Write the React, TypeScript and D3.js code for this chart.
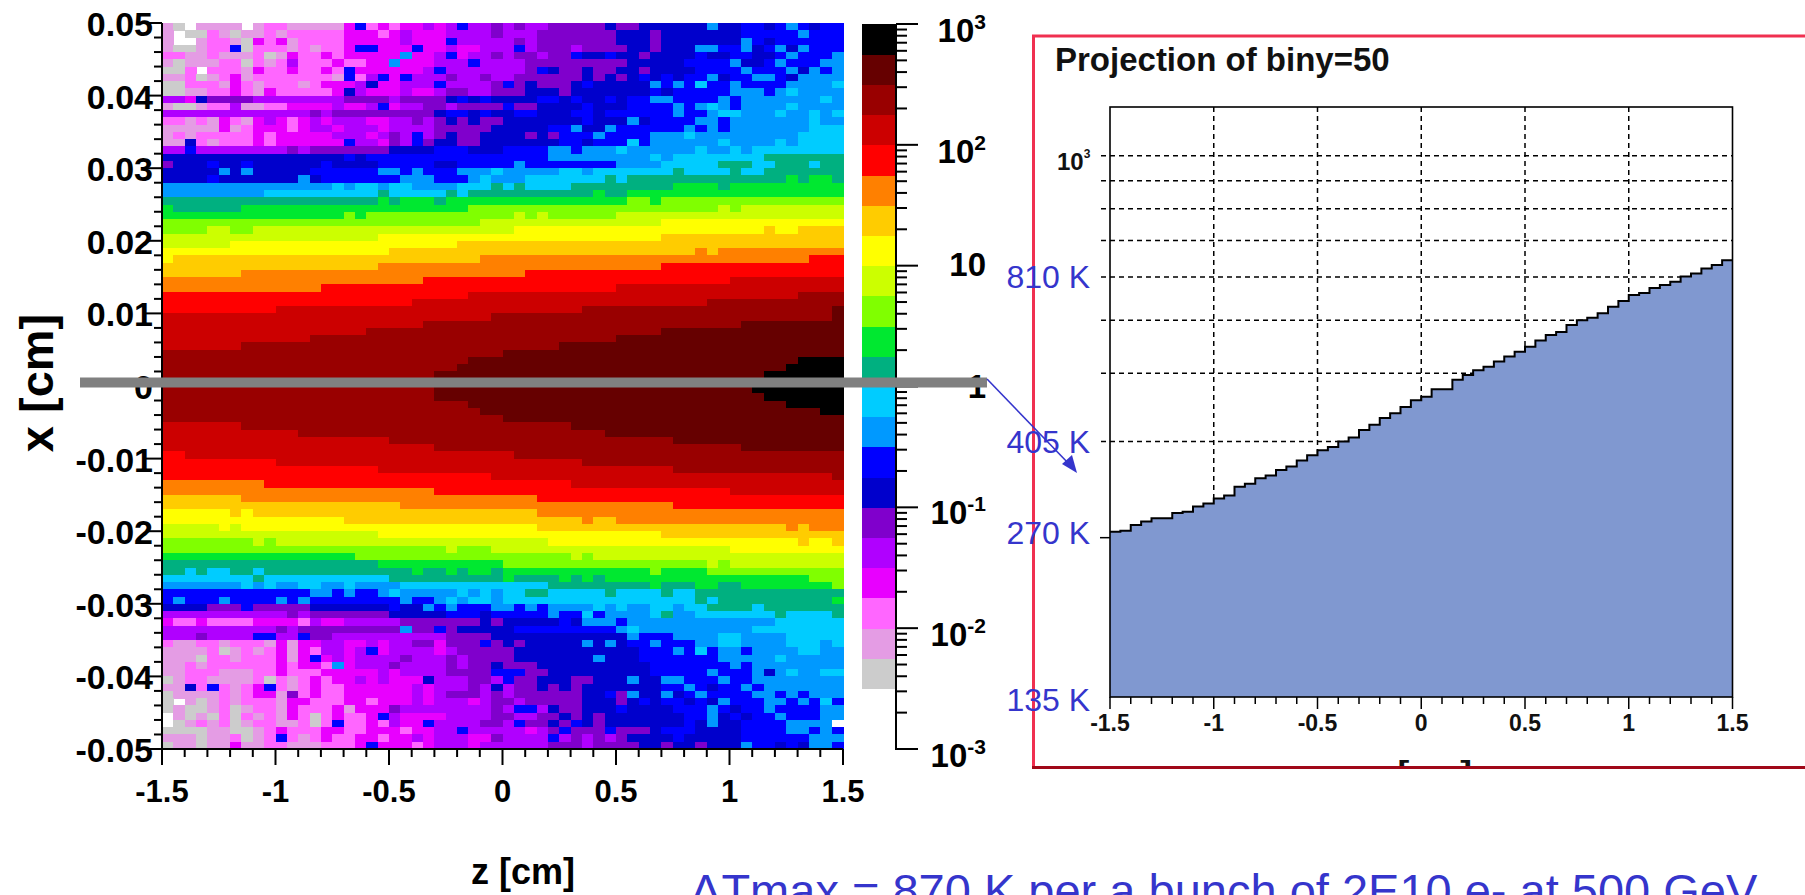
import React from "react";
import * as d3 from "d3";

// Heat-map rows, top (x = 0.05) to bottom (x = -0.05). Run-length coded colour levels, 60 bins each.
const heatRows: string[] = [
  "ba.bbbb.bccbbbbbdhcdcddedeheefefeefffffgffggggggigghhghihghh",
  "b.aacbabbcbcccccdddcdedddeeeefeeefffffffgggfggggggghhhhhihhh",
  "b..bccbadcdbccccdddddedddheeeeefefffffffgggfgggggggihghhhhhh",
  "baabcchacccbcbccdhhdddhddeddeeehefffeffffggfgggiihhighigihhh",
  "ccbbcbbbcabdccdcdddddiddehdeefeffeffhgghggfgggghgghhgghihhhi",
  "babbbccacbcecccdccddidddeeeheee2f9g5h4ig2hih2hii",
  "aac.cccbdccdccdchd6ehe5e2fhgf2gf2g2fg4h4ih3igihi",
  "bbcabcdbcccccccbhcehdheeefeefeef6gfgfghghgh2igh2i2hgi4",
  "a2c3bdcbc3bcd3egd2e3he4fhfgf3ghg5ihihjh2ih4i4j",
  "a2b2c2dcbdc5dged3ed2ef2e2ff2g3fg7hgh5i3hiji4",
  "e2dgf4e8f4ef4ghghgg3h2ghg2hgh2i2h4ihi7ji",
  "ba2bc2eb2c2d4ed2ehde2f2ef4hf2g4hg3h4ihijihi4ji4",
  "e13fef9gh2ghggh2g3h2gh6ih2ij2i3ji2jij",
  "c2bcbdcbdedcdede3d2e2fefgfgf2g7hg3igh4i2hi7ji2",
  "b5dbcd3cde2de3de4f5gg4h2ig2ih6ihihi7j3",
  "bcbc5dcd5e3defehefgf2g2g2fgfh3ih4i3ji9j4",
  "b2gcbc3dcd6he2dfehfg2f2g2g5h2gh3jhi6ji4jij4",
  "e2he8fef7g4h3g3h4i2hi3ji6ji2jij8",
  "g16hgh12h4i9jij8k7",
  "fg3hg2hg6hg4h5g2h4hih8i4j5k3j2k3jk2",
  "g5igig5h6i2hih3i3ji5j2ij7kj4kj2k7",
  "g4hg7igh7i3h3ijii2j7kjk14lkl2k",
  "i15jij2ij2i4j3kjkj4k9l4kl10",
  "i9j10kj5kjk11lk2l19",
  "k19lkl3kl16m2lm16",
  "lk6l20m22nmn9",
  "l16mlm13nmnm6n20",
  "m28n16o16",
  "m4n2m2n23o22po2p4",
  "n19o25p16",
  "n6o20p34",
  "o20p27qpq11",
  "op27q29r3",
  "p19q25r16",
  "p7q25r28",
  "q23r27s10",
  "q14r26s20",
  "r27s29t4",
  "r22s26t12",
  "r10s27t22u",
  "s29t30u",
  "s23t28u9",
  "s18t26u16",
  "s13t27u20",
  "s7t28u25",
  "t30u30",
  "t27u29v4",
  "t26u29v5",
  "t24u29v7",
  "t24u29v7",
  "t24u28v8",
  "t24u29v7",
  "t27u28v5",
  "t28u30v2",
  "t30u30",
  "s7t29u24",
  "s12t27u21",
  "s20t25u15",
  "s24t27u9",
  "r2s29t29",
  "r10s27t23",
  "r19s26t15",
  "r29s30t",
  "q9r27s24",
  "q24r26s10",
  "p7q26r27",
  "p21q24r15",
  "o6pop25q27",
  "o16p21qp2q20",
  "n5ono26p22qpq3",
  "n19o25p16",
  "m8nmn24o22po2p",
  "m25nm3n21o10",
  "l17m19nmn22",
  "k19l11m18nmn10",
  "k2jkj2k2jk13lk2lkl2kl13ml4m12",
  "j8kj11k10lk4lklkl18m3",
  "i7jiji2j2i2ji4j13k9lk3l2k2l8m",
  "h13i2hih2iji5jijij2k2j5kj4kj2k13",
  "hih3ih4ihih8ih2ijij2ij17kjk10l",
  "g4f3hf5g7hg2ihih3iihihi4jiji2j2ij2k4jk7",
  "e11fef7g5h3ghh4ih2jhi4jki2j7kj4k",
  "dc2dc4d4ced2e5f7gfg5hgi3hi13j6",
  "e10fef9if2hfg4gh9iji10j8",
  "e3fe4h2e2hf2e10f4gg11ih3i4j2i4j5",
  "cb2c2bc3bdbd2e2d2ede2f2df3hfgfg5igigh2ih3i2j2i4j3ij",
  "b4cabcbcdbdce2dehde4def4fg11h3ihjhi2hi4j2i2",
  "b3ac2bc3dbdhdede4fe3fef3fg7ig3h7i5ji5",
  "b2cbc6dcd2cide3fe4fef2gf3g10h7ihi8",
  "b2c3b3c2dc3d5ede4f4hh2f2g9h5ih3igiji2j2",
  "abc2b4cacbcdcd2eded3ge3f2ehf2g3f2g3ig2i2h3ih2i8",
  "b2gchcbcdhcbcdc2d6ede3fegef2gfgfg7h2ihgh2ihi7",
  "ab4cbcd2bfcdc2d6edef3efef6g2hfig2ighih4i2hihi3",
  "a.babcbc3bd2c3d2cd3ede3deffef5g3fghgh2ghgih3i2hihjh",
  "aba2bcabc2bdc3dbd3fe8feh2egf2g3hg4h3ihgh2ihh3i2",
  ".babacacbcbdcacdc2dhed4e4ffe2f2gfgfg7h2ighgh2ih3i2",
  ".abcbcabc2b2cachc2dced2he4ffehf2gfhgfg7hgig2h3hi4",
  "a4b2a2bcdc3d2c2d3cd2e2he3e2defhf3hf3gh3g4h4i2hih",
  "b3ab2cabchcbcdc2d2cd2ede3d2fe4hefefefg4hg5h6i3",
  "ab2ab2db2c2b3c3dhd3cde3de2e4f3ef4g2fg2fg3ih2ghgi2h",
];

// Colour levels, lowest to highest, matching the letters in heatRows.
const levelKeys: string[] = "abcdefghijklmnopqrstuv".split("");
const levelColors: string[] = [
  "#cccccc", "#e49ce4", "#ff66ff", "#e800ff", "#b000ff", "#8000cc", "#0000cc", "#0000ff",
  "#0099ff", "#00ccff", "#00b080", "#00e830", "#80ff00", "#ccff00", "#ffff00", "#ffcc00",
  "#ff8000", "#ff0000", "#cc0000", "#990000", "#660000", "#000000",
];

// Projection histogram, 60 bins in z.
const projection: number[] = [
  205, 206, 211, 214, 217, 217, 222, 223, 228, 231,
  236, 239, 248, 251, 257, 260, 266, 270, 277, 283,
  289, 293, 300, 305, 315, 322, 331, 338, 347, 357,
  362, 374, 374, 389, 397, 405, 411, 420, 429, 438,
  447, 459, 470, 476, 490, 500, 505, 515, 529, 542,
  556, 561, 573, 580, 588, 601, 609, 622, 631, 644,
];

const zTicks: number[] = [-1.5, -1, -0.5, 0, 0.5, 1, 1.5];
const xTicks: number[] = [0.05, 0.04, 0.03, 0.02, 0.01, 0, -0.01, -0.02, -0.03, -0.04, -0.05];
const colorDecades: { value: number; base: string; sup: string; dy: number }[] = [
  { value: 1000, base: "10", sup: "3", dy: 18 },
  { value: 100, base: "10", sup: "2", dy: 18 },
  { value: 10, base: "10", sup: "", dy: 10 },
  { value: 1, base: "1", sup: "", dy: 11 },
  { value: 0.1, base: "10", sup: "-1", dy: 17 },
  { value: 0.01, base: "10", sup: "-2", dy: 18 },
  { value: 0.001, base: "10", sup: "-3", dy: 18 },
];
const gridCounts: number[] = [1000, 900, 800, 700, 600, 500, 400, 300];
const kelvinLabels: { count: number; text: string; y: number }[] = [
  { count: 600, text: "810 K", y: 288 },
  { count: 300, text: "405 K", y: 453 },
  { count: 200, text: "270 K", y: 544 },
  { count: 100, text: "135 K", y: 711 },
];

const decodeRow = (s: string): string[] => {
  const out: string[] = [];
  for (const m of s.matchAll(/([a-v.])(\d*)/g)) {
    const n = m[2] ? +m[2] : 1;
    for (let i = 0; i < n; i++) out.push(m[1]);
  }
  return out;
};

const FONT = "'Liberation Sans', Arial, sans-serif";
const BLUE = "#3535cc";

export default function App() {
  const xHeat = d3.scaleLinear().domain([-1.5, 1.5]).range([162, 843]);
  const yHeat = d3.scaleLinear().domain([0.05, -0.05]).range([23, 749]);
  const color = d3.scaleOrdinal<string, string>().domain(levelKeys).range(levelColors);
  const yBar = d3.scaleLog().domain([0.001, 1000]).range([749, 24]);
  const xProj = d3.scaleLinear().domain([-1.5, 1.5]).range([1110, 1732.5]);
  const yProj = d3.scaleLog().domain([102.2, 1228]).range([697, 107]);

  const zMinor = d3.range(-15, 16).map((v) => v / 10);
  const xMinor = d3.range(-25, 26).map((v) => v * 0.002);
  const barMinor = d3.range(-3, 3).flatMap((e) => d3.range(2, 10).map((m) => m * Math.pow(10, e)));
  const barLevels = levelColors.map((c, i) => ({
    c,
    lo: Math.pow(10, -3 + (i + 2) * 0.25),
    hi: Math.pow(10, -3 + (i + 3) * 0.25),
  }));

  const binW = 0.05;
  const stepLine = d3
    .line<[number, number]>()
    .x((d) => xProj(d[0]))
    .y((d) => yProj(d[1]))
    .curve(d3.curveStepAfter);
  const stepPts: [number, number][] = projection.map((v, i) => [-1.5 + i * binW, v]);
  stepPts.push([1.5, projection[projection.length - 1]]);
  const area = d3
    .area<[number, number]>()
    .x((d) => xProj(d[0]))
    .y0(697)
    .y1((d) => yProj(d[1]))
    .curve(d3.curveStepAfter);

  return (
    <svg
      width={1805}
      height={895}
      style={{ position: "fixed", left: 0, top: 0, background: "#fff" }}
      fontFamily={FONT}
    >
      <defs>
        <clipPath id="panelClip">
          <rect x={1033} y={35} width={780} height={733} />
        </clipPath>
      </defs>

      {/* heat map */}
      <g shapeRendering="crispEdges">
        {heatRows.map((row, r) =>
          decodeRow(row).map((k, c) =>
            k === "." ? null : (
              <rect
                key={`${r}-${c}`}
                x={xHeat(-1.5 + c * binW)}
                y={yHeat(0.05 - r * 0.001)}
                width={xHeat(binW) - xHeat(0) + 0.5}
                height={yHeat(0) - yHeat(0.001) + 0.5}
                fill={color(k)}
              />
            )
          )
        )}
      </g>

      {/* heat map axes */}
      <g stroke="#000" strokeWidth={2} fill="none">
        <line x1={162} x2={162} y1={23} y2={750} />
        <line x1={161} x2={843} y1={749} y2={749} />
        {xMinor.map((v, i) => (
          <line key={i} x1={i % 5 === 0 ? 146 : 154} x2={162} y1={yHeat(v)} y2={yHeat(v)} />
        ))}
        {zMinor.map((v, i) => (
          <line key={i} x1={xHeat(v)} x2={xHeat(v)} y1={749} y2={i % 5 === 0 ? 765 : 757} />
        ))}
      </g>
      <g fontWeight="bold" fill="#000">
        {xTicks.map((v) => (
          <text key={v} x={153} y={yHeat(v) + 13} textAnchor="end" fontSize={34}>
            {String(v)}
          </text>
        ))}
        {zTicks.map((v) => (
          <text key={v} x={xHeat(v)} y={802} textAnchor="middle" fontSize={31}>
            {String(v)}
          </text>
        ))}
      </g>
      <text x={523} y={884} textAnchor="middle" fontWeight="bold" fontSize={36}>
        z [cm]
      </text>
      <text
        transform="translate(53,383) rotate(-90)"
        textAnchor="middle"
        fontWeight="bold"
        fontSize={47}
      >
        x [cm]
      </text>

      {/* colour bar */}
      <g shapeRendering="crispEdges">
        {barLevels.map((l, i) => (
          <rect key={i} x={862} width={34} y={yBar(l.hi)} height={yBar(l.lo) - yBar(l.hi) + 0.5} fill={l.c} />
        ))}
      </g>
      <g stroke="#000" strokeWidth={2}>
        <line x1={896} x2={896} y1={24} y2={750} />
        {barMinor.map((v, i) => (
          <line key={i} x1={896} x2={907} y1={yBar(v)} y2={yBar(v)} />
        ))}
        {colorDecades.map((d) => (
          <line key={d.value} x1={896} x2={918} y1={yBar(d.value)} y2={yBar(d.value)} />
        ))}
      </g>
      <g fontWeight="bold" fontSize={33} textAnchor="end">
        {colorDecades.map((d) => (
          <text key={d.value} x={986} y={yBar(d.value) + d.dy}>
            {d.base}
            {d.sup ? (
              <tspan fontSize={21} dy={-13}>
                {d.sup}
              </tspan>
            ) : null}
          </text>
        ))}
      </g>

      {/* projection panel */}
      <rect x={1033} y={35} width={790} height={733} fill="#fff" />
      <text x={1055} y={71} fontWeight="bold" fontSize={33} fill="#111">
        Projection of biny=50
      </text>
      <g stroke="#000" strokeWidth={1.5} strokeDasharray="5 4">
        {gridCounts.map((v) => (
          <line key={v} x1={1101} x2={1732} y1={yProj(v)} y2={yProj(v)} />
        ))}
        {zTicks.slice(1, -1).map((v) => (
          <line key={v} x1={xProj(v)} x2={xProj(v)} y1={107} y2={697} />
        ))}
      </g>
      <path d={area(stepPts) ?? ""} fill="#8098d0" />
      <path d={stepLine(stepPts) ?? ""} fill="none" stroke="#000" strokeWidth={2} />
      <rect x={1110} y={107} width={622.5} height={590} fill="none" stroke="#000" strokeWidth={1.6} />
      <line x1={1100} x2={1110} y1={yProj(200)} y2={yProj(200)} stroke="#000" strokeWidth={1.5} />
      <g stroke="#000" strokeWidth={1.5}>
        {zMinor.map((v, i) => (
          <line key={i} x1={xProj(v)} x2={xProj(v)} y1={697} y2={i % 5 === 0 ? 709 : 704} />
        ))}
      </g>
      <g fontWeight="bold" fontSize={23} fill="#111" textAnchor="middle">
        {zTicks.map((v) => (
          <text key={v} x={xProj(v)} y={731}>
            {String(v)}
          </text>
        ))}
      </g>
      <text x={1057} y={170} fontWeight="bold" fontSize={24} fill="#111">
        10
        <tspan fontSize={12} dy={-12}>
          3
        </tspan>
      </text>
      <g clipPath="url(#panelClip)">
        <text x={1421} y={782} textAnchor="middle" fontWeight="bold" fontSize={30} textLength={102} lengthAdjust="spacingAndGlyphs" fill="#111">
          z [cm]
        </text>
      </g>
      <path d="M1033.5,768 V36 H1810" fill="none" stroke="#f03050" strokeWidth={3} />
      <path d="M1032,767.5 H1810" fill="none" stroke="#a00818" strokeWidth={3} />

      {/* annotations */}
      <rect x={80} y={377.5} width={907} height={10} fill="#808080" />
      <g fill={BLUE} fontSize={32} textAnchor="end">
        {kelvinLabels.map((d) => (
          <text key={d.count} x={1090} y={d.y}>
            {d.text}
          </text>
        ))}
      </g>
      <line x1={987} y1={379} x2={1070} y2={465} stroke={BLUE} strokeWidth={1.6} />
      <path d="M1077,473 L1062,464 L1072,455 Z" fill={BLUE} />
      <text x={690} y={907} fontSize={47} fill={BLUE}>
        ΔTmax = 870 K per a bunch of 2E10 e- at 500 GeV
      </text>
    </svg>
  );
}
